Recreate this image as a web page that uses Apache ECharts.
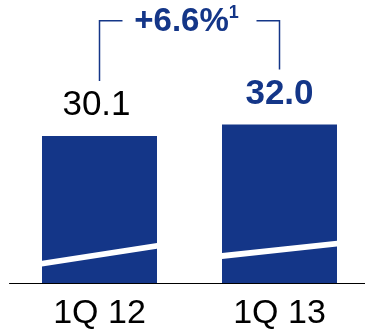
<!DOCTYPE html>
<html>
<head>
<meta charset="utf-8">
<script src="https://cdn.jsdelivr.net/npm/echarts@6/dist/echarts.min.js"></script>
<style>
html,body{margin:0;padding:0;background:#fff;}
#c{width:365px;height:335px;}
</style>
</head>
<body>
<div id="c"></div>
<script>
const categories = ['1Q 12', '1Q 13'];
const values = [30.1, 32.0];
const growthLabel = '+6.6%';
const growthNote = '1';

const BLUE = '#143688';
const FONT = '"Liberation Sans", Arial, sans-serif';
const Y_MIN = 6;

const chart = echarts.init(document.getElementById('c'), null, {renderer: 'canvas'});

// stripe offsets (px above baseline): [leftLow, leftHigh, rightLow, rightHigh]
const stripeOffsets = [
  [16.6, 22.3, 34.3, 40.0],
  [24.0, 30.0, 36.6, 42.3]
];

chart.setOption({
  animation: false,
  grid: {left: 9.5, width: 360, top: 75.6, bottom: 52, containLabel: false, outerBoundsMode: 'none'},
  xAxis: {
    type: 'category',
    data: categories,
    axisLine: {lineStyle: {color: '#000', width: 1}},
    axisTick: {show: false},
    axisLabel: {color: '#000', fontSize: 34, fontFamily: FONT, margin: 14}
  },
  yAxis: {type: 'value', min: Y_MIN, max: 40, show: false, splitLine: {show: false}},
  series: [
    {
      type: 'bar',
      barWidth: 115,
      clip: true,
      itemStyle: {color: BLUE},
      data: values.map((v, i) => ({
        value: v,
        label: {
          show: true,
          position: 'top',
          distance: 13,
          fontFamily: FONT,
          fontSize: 35,
          fontWeight: i === 1 ? 'bold' : 'normal',
          color: i === 1 ? BLUE : '#000',
          offset: [i === 0 ? -3 : 0, 0],
          formatter: p => p.value.toFixed(1)
        }
      }))
    },
    {
      type: 'custom',
      silent: true,
      z: 5,
      data: values.map((v, i) => [i, v]),
      renderItem: function (params, api) {
        const i = api.value(0);
        const base = api.coord([i, Y_MIN]);
        const half = 57.5;
        const o = stripeOffsets[i];
        const l = base[0] - half, r = base[0] + half, b = base[1];
        return {
          type: 'polygon',
          shape: {points: [[l, b - o[0]], [r, b - o[2]], [r, b - o[3]], [l, b - o[1]]]},
          style: {fill: '#fff'}
        };
      }
    },
    {
      type: 'custom',
      silent: true,
      z: 6,
      data: [[0, values[0]]],
      renderItem: function (params, api) {
        const p0 = api.coord([0, values[0]]);
        const p1 = api.coord([1, values[1]]);
        const topY = Math.min(p0[1], p1[1]) - 103.6;
        const drop = 55;
        const seg = 23;
        const ls = {stroke: BLUE, lineWidth: 1.5, fill: null};
        const midX = (p0[0] + p1[0]) / 2 - 3;
        return {
          type: 'group',
          children: [
            {type: 'polyline', shape: {points: [[p0[0], p0[1] - drop], [p0[0], topY], [p0[0] + seg, topY]]}, style: ls},
            {type: 'polyline', shape: {points: [[p1[0] - seg, topY], [p1[0], topY], [p1[0], p1[1] - drop]]}, style: ls},
            {
              type: 'text',
              x: midX,
              y: topY + 1,
              style: {
                text: '{a|' + growthLabel + '}{s|' + growthNote + '}',
                align: 'center',
                verticalAlign: 'middle',
                rich: {
                  a: {fontFamily: FONT, fontSize: 33, fontWeight: 'bold', fill: BLUE, color: BLUE},
                  s: {fontFamily: FONT, fontSize: 18, fontWeight: 'bold', fill: BLUE, color: BLUE, verticalAlign: 'top', padding: [0, 0, 18, 0]}
                }
              }
            }
          ]
        };
      }
    }
  ]
});
</script>
</body>
</html>
